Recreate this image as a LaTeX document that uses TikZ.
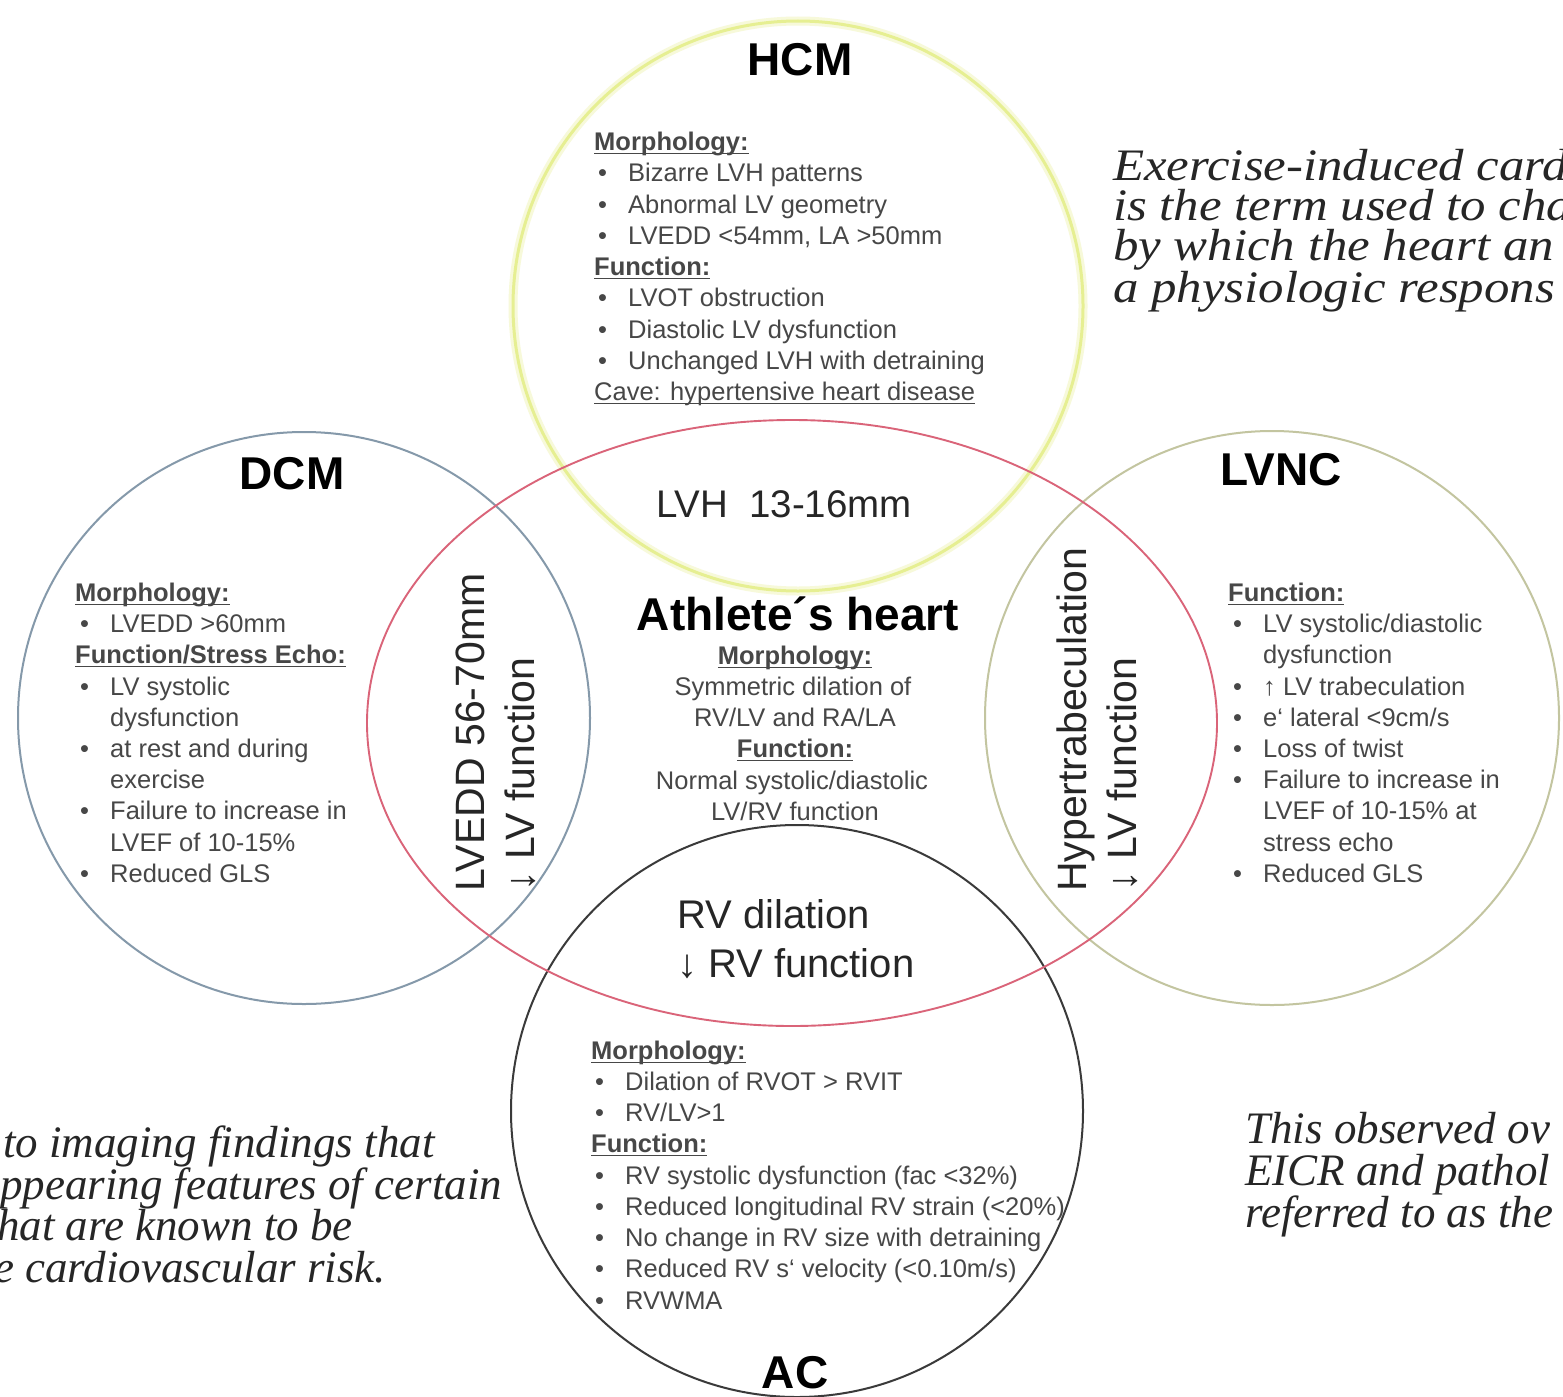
\documentclass[tikz,border=0pt]{standalone}
\usepackage{fontspec}
\setmainfont{Liberation Sans}
\newfontfamily\serifit{Liberation Serif}
\definecolor{hcmcol}{HTML}{E6EF92}
\definecolor{hcmglow}{HTML}{F7F9DA}
\definecolor{dcmcol}{HTML}{8599AA}
\definecolor{lvnccol}{HTML}{C3C5A0}
\definecolor{accol}{HTML}{3A3A3A}
\definecolor{redcol}{HTML}{DA6479}
\definecolor{txtc}{HTML}{474747}
\definecolor{itc}{HTML}{262626}
\newcommand{\bodyf}{\fontsize{25.5}{31}\selectfont}
\newcommand{\ttlf}{\fontsize{46}{50}\selectfont\bfseries}
\newcommand{\bigf}{\fontsize{40}{49}\selectfont}
\newcommand{\vbigf}{\fontsize{41}{50}\selectfont}
\newcommand{\itf}{\fontsize{45}{41.5}\selectfont\serifit\itshape}
\newcommand{\itfb}{\fontsize{45}{40}\selectfont\serifit\itshape}
\newcommand{\itfc}{\fontsize{45}{42}\selectfont\serifit\itshape}
\newcommand{\wide}[1]{\scalebox{1.13}[1]{#1}}
\newcommand{\myul}[1]{\setbox0\hbox{#1}\rlap{\rule[-4pt]{\wd0}{1.5pt}}\box0}
\newcommand{\hd}[1]{\textbf{\myul{#1}}}
\newcommand{\bl}{\makebox[30pt][l]{•}}
\begin{document}
\begin{tikzpicture}[x=1pt,y=-1pt,
  bt/.style={anchor=base west, inner sep=0pt, font=\bodyf, text=txtc},
  bc/.style={anchor=base, inner sep=0pt, font=\bodyf, text=txtc},
  ttl/.style={anchor=base, inner sep=0pt, font=\ttlf, text=black},
  bigtxt/.style={inner sep=0pt, font=\bigf, text=black!85},
  verttxt/.style={inner sep=0pt, font=\vbigf, text=black!85, rotate=90, anchor=west, align=left},
  itblock/.style={anchor=north west, inner sep=0pt, align=left, text=itc},
  ring/.style={line width=2pt}
]
\useasboundingbox (0,0) rectangle (1563,1397);
\fill[white] (0,0) rectangle (1563,1397);
\clip (0,0) rectangle (1563,1397);

% circles
\draw[line width=9pt, hcmglow] (798,306) circle[radius=285pt];
\draw[line width=3pt, hcmcol] (798,306) circle[radius=285pt];
\draw[ring, dcmcol] (304,718) circle[radius=286pt];
\draw[ring, lvnccol] (1272,718) circle[radius=287pt];
\draw[ring, accol] (797,1111) circle[radius=286pt];
\draw[line width=1.9pt, redcol] (792,723) ellipse[x radius=425pt, y radius=303pt];

% titles
\node[ttl] (hcmT) at (800,75) {HCM};
\node[ttl] (dcmT) at (292,489) {DCM};
\node[ttl] (lvncT) at (1281,485) {LVNC};
\node[ttl] (acT) at (795,1388) {AC};
\node[ttl] (athT) at (798,630) {Athlete´s heart};

% HCM block
\node[bt] (hcm1) at (594,150) {\hd{Morphology:}};
\node[bt] (hcm2) at (598,181) {\bl Bizarre LVH patterns};
\node[bt] (hcm3) at (598,213) {\bl Abnormal LV geometry};
\node[bt] (hcm4) at (598,244) {\bl LVEDD <54mm, LA >50mm};
\node[bt] (hcm5) at (594,275) {\hd{Function:}};
\node[bt] (hcm6) at (598,306) {\bl LVOT obstruction};
\node[bt] (hcm7) at (598,338) {\bl Diastolic LV dysfunction};
\node[bt] (hcm8) at (598,369) {\bl Unchanged LVH with detraining};
\node[bt] (hcm9) at (594,400) {\myul{Cave: hypertensive heart disease}};

% DCM block
\node[bt] (dcm1) at (75,601) {\hd{Morphology:}};
\node[bt] (dcm2) at (80,632) {\bl LVEDD >60mm};
\node[bt] (dcm3) at (75,663) {\hd{Function/Stress Echo:}};
\node[bt] (dcm4) at (80,695) {\bl LV systolic};
\node[bt] (dcm5) at (110,726) {dysfunction};
\node[bt] (dcm6) at (80,757) {\bl at rest and during};
\node[bt] (dcm7) at (110,788) {exercise};
\node[bt] (dcm8) at (80,819) {\bl Failure to increase in};
\node[bt] (dcm9) at (110,851) {LVEF of 10-15\%};
\node[bt] (dcm10) at (80,882) {\bl Reduced GLS};

% LVNC block
\node[bt] (lv1) at (1228,601) {\hd{Function:}};
\node[bt] (lv2) at (1233,632) {\bl LV systolic/diastolic};
\node[bt] (lv3) at (1263,663) {dysfunction};
\node[bt] (lv4) at (1233,695) {\bl ↑ LV trabeculation};
\node[bt] (lv5) at (1233,726) {\bl e` lateral <9cm/s};
\node[bt] (lv6) at (1233,757) {\bl Loss of twist};
\node[bt] (lv7) at (1233,788) {\bl Failure to increase in};
\node[bt] (lv8) at (1263,819) {LVEF of 10-15\% at};
\node[bt] (lv9) at (1263,851) {stress echo};
\node[bt] (lv10) at (1233,882) {\bl Reduced GLS};

% Athlete's heart block
\node[bc] (ath1) at (795,664) {\hd{Morphology:}};
\node[bc] (ath2) at (793,695) {Symmetric dilation of};
\node[bc] (ath3) at (795,726) {RV/LV and RA/LA};
\node[bc] (ath4) at (795,757) {\hd{Function:}};
\node[bc] (ath5) at (792,789) {Normal systolic/diastolic};
\node[bc] (ath6) at (795,820) {LV/RV function};

% AC block
\node[bt] (ac1) at (591,1059) {\hd{Morphology:}};
\node[bt] (ac2) at (595,1090) {\bl Dilation of RVOT > RVIT};
\node[bt] (ac3) at (595,1121) {\bl RV/LV>1};
\node[bt] (ac4) at (591,1152) {\hd{Function:}};
\node[bt] (ac5) at (595,1184) {\bl RV systolic dysfunction (fac <32\%)};
\node[bt] (ac6) at (595,1215) {\bl Reduced longitudinal RV strain (<20\%)};
\node[bt] (ac7) at (595,1246) {\bl No change in RV size with detraining};
\node[bt] (ac8) at (595,1277) {\bl Reduced RV s` velocity (<0.10m/s)};
\node[bt] (ac9) at (595,1309) {\bl RVWMA};

% overlap labels
\node[bigtxt, anchor=base] (lvh) at (784,517) {\fontsize{38.5}{46}\selectfont LVH\hspace{0.55em}13-16mm};
\node[bigtxt, anchor=base west] (rvd1) at (677,928) {RV dilation};
\node[bigtxt, anchor=base west] (rvd2) at (677,977) {↓ RV function};
\node[verttxt] (lvedd) at (496,892) {LVEDD 56-70mm\\↓ LV function};
\node[verttxt] (hyper) at (1097,892) {Hypertrabeculation\\↓ LV function};

% italic side texts
\node[itblock, font=\itfb] (tr) at (1113,149) {\wide{Exercise-induced card}\\\wide{is the term used to cha}\\\wide{by which the heart an}\\\wide{a physiologic respons}};

\node[itblock, font=\itf] (bl) at (-6,1126) {\hspace*{9pt}to imaging findings that\\\hspace*{6pt}ppearing features of certain\\\hspace*{3pt}hat are known to be\\e cardiovascular risk.};

\node[itblock, font=\itfc] (br) at (1245,1112) {This observed ov\\EICR and pathol\\referred to as the};
\end{tikzpicture}
\end{document}
